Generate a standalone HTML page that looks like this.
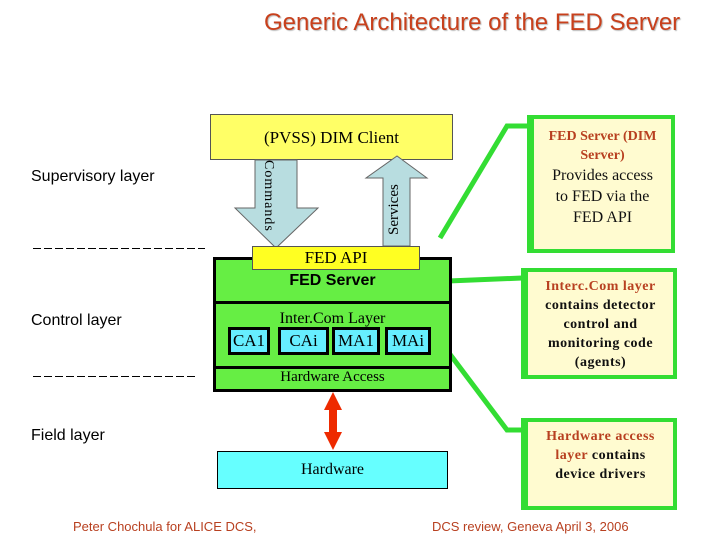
<!DOCTYPE html>
<html><head><style>
body{margin:0;width:720px;height:540px;background:#fff;position:relative;overflow:hidden;font-family:"Liberation Sans",sans-serif}
.a{position:absolute}
.ser{font-family:"Liberation Serif",serif}
.cb{position:absolute;background:#fffbd0;border:4px solid #33dd33;border-left-width:7px;box-sizing:border-box;text-align:center;font-family:"Liberation Serif",serif;font-size:14px;line-height:19px;font-weight:bold;color:#111;white-space:nowrap;letter-spacing:0.5px}
.r{color:#b84020}
.ag{position:absolute;top:327px;height:28px;background:#66eeff;border:3px solid #000;box-sizing:border-box;font-family:"Liberation Serif",serif;font-size:17px;text-align:center;line-height:22px}
</style></head><body>
<div class="a" style="left:264px;top:9px;font-size:24px;color:#c8401c;text-shadow:1px 1px 1px #bbb;white-space:nowrap">Generic Architecture of the FED Server</div>

<div class="a" style="left:31px;top:168px;font-size:16px">Supervisory layer</div>
<div class="a" style="left:31px;top:312px;font-size:16px">Control layer</div>
<div class="a" style="left:31px;top:427px;font-size:16px">Field layer</div>
<svg class="a" style="left:0;top:0" width="720" height="540">
<line x1="33" y1="248.5" x2="205" y2="248.5" stroke="#000" stroke-width="1" stroke-dasharray="8,3"/>
<line x1="33" y1="376.5" x2="198" y2="376.5" stroke="#000" stroke-width="1" stroke-dasharray="8,3"/>
</svg>

<div class="a ser" style="left:210px;top:114px;width:243px;height:46px;background:#ffff66;border:1px solid #555;box-sizing:border-box;font-size:17px;text-align:center;line-height:46px">(PVSS) DIM Client</div>

<svg class="a" style="left:0;top:0" width="720" height="540">
<polygon points="255,160 297,160 297,208 318,208 276,248 235,208 255,208" fill="#b8dde0" stroke="#666" stroke-width="1"/>
<polygon points="383,246 410,246 410,178 427,178 397,156 366,178 383,178" fill="#b8dde0" stroke="#666" stroke-width="1"/>
<polyline points="440,238 507,126 528,126" fill="none" stroke="#33dd33" stroke-width="5"/>
<line x1="448" y1="281" x2="522" y2="278" stroke="#33dd33" stroke-width="5"/>
<polyline points="443,345 507,430 522,430" fill="none" stroke="#33dd33" stroke-width="5"/>
<polygon points="333,392 342,410 337,410 337,432 342,432 333,450 324,432 329,432 329,410 324,410" fill="#ee2a00"/>
</svg>
<div class="a ser" style="left:256px;top:160px;width:20px;height:80px;writing-mode:vertical-rl;font-size:14px;letter-spacing:1px">Commands</div>
<div class="a ser" style="left:386px;top:176px;width:20px;height:68px;writing-mode:vertical-rl;transform:rotate(180deg);font-size:15px;text-align:center">Services</div>

<div class="a" style="left:213px;top:257px;width:239px;height:135px;background:#66ee44;border:3px solid #000;box-sizing:border-box"></div>
<div class="a" style="left:213px;top:301px;width:239px;height:3px;background:#000"></div>
<div class="a" style="left:213px;top:366px;width:239px;height:3px;background:#000"></div>
<div class="a ser" style="left:252px;top:246px;width:168px;height:24px;background:#ffff22;border:1px solid #555;box-sizing:border-box;text-align:center;font-size:17px;line-height:22px">FED API</div>
<div class="a" style="left:213px;top:272px;width:239px;text-align:center;font-size:16px;font-weight:bold">FED Server</div>
<div class="a ser" style="left:213px;top:310px;width:239px;text-align:center;font-size:16px">Inter.Com Layer</div>
<div class="ag" style="left:228px;width:42px">CA1</div>
<div class="ag" style="left:278px;width:51px">CAi</div>
<div class="ag" style="left:332px;width:48px">MA1</div>
<div class="ag" style="left:385px;width:46px">MAi</div>
<div class="a ser" style="left:213px;top:369px;width:239px;text-align:center;font-size:15px">Hardware Access</div>

<div class="a ser" style="left:217px;top:451px;width:231px;height:38px;background:#66ffff;border:1px solid #000;box-sizing:border-box;text-align:center;font-size:16px;line-height:36px">Hardware</div>

<div class="cb" style="left:527px;top:115px;width:148px;height:138px;padding-top:8px;letter-spacing:0"><span class="r">FED Server (DIM<br>Server)</span><br><span style="font-weight:normal;font-size:16px;line-height:21px">Provides access<br>to FED via the<br>FED API</span></div>
<div class="cb" style="left:521px;top:268px;width:156px;height:111px;padding-top:5px"><span class="r">Interc.Com layer</span><br>contains detector<br>control and<br>monitoring code<br>(agents)</div>
<div class="cb" style="left:521px;top:418px;width:156px;height:92px;padding-top:5px"><span class="r">Hardware access<br>layer</span> contains<br>device drivers</div>

<div class="a" style="left:73px;top:519px;font-size:13px;color:#b84020">Peter Chochula for ALICE DCS,</div>
<div class="a" style="left:432px;top:519px;font-size:13px;color:#b84020">DCS review, Geneva April 3, 2006</div>
</body></html>
